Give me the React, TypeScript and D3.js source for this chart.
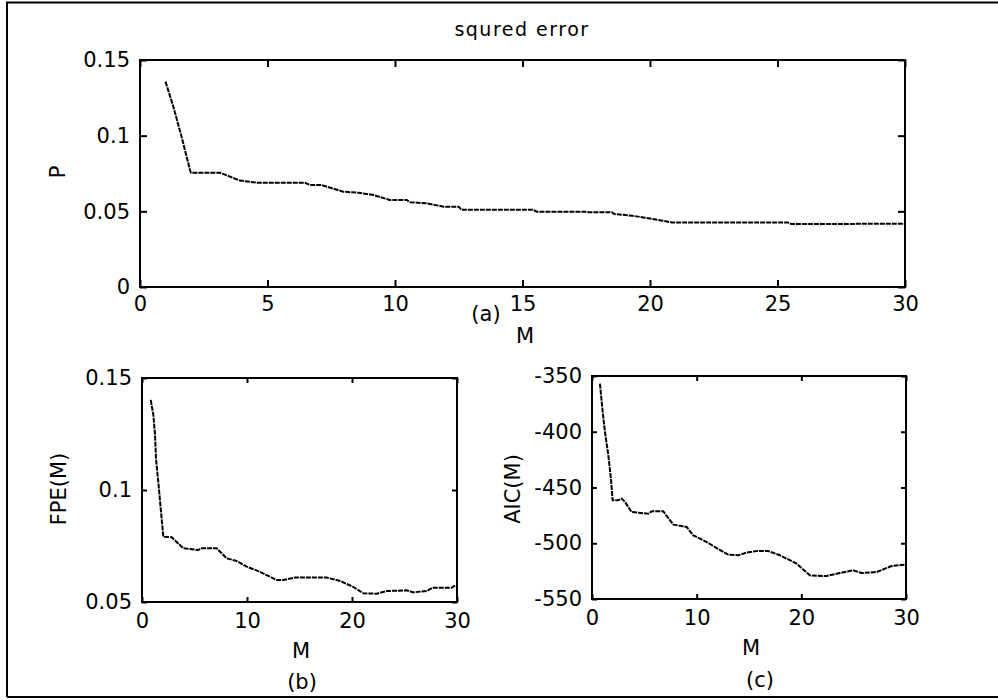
import * as d3 from "d3";
import { useEffect, useRef } from "react";

// (a) squared error P against model order M
const pM = [1, 1.31, 1.63, 1.96, 2.0, 3.14, 3.92, 4.58, 6.47, 6.67, 7.12, 7.97, 8.56, 9.15, 9.8, 10.46, 10.6, 11.24, 11.9, 12.5, 12.6, 15.4, 15.56, 17.45, 17.6, 18.5, 18.6, 19.3, 19.8, 20.5, 20.85, 25.4, 25.55, 30];
const pVal = [0.1357, 0.119, 0.0993, 0.0773, 0.0755, 0.0755, 0.0703, 0.0689, 0.0689, 0.0674, 0.0674, 0.063, 0.0623, 0.0608, 0.0575, 0.0575, 0.056, 0.0553, 0.0531, 0.0531, 0.0511, 0.0511, 0.0498, 0.0498, 0.0494, 0.0494, 0.0482, 0.0471, 0.0458, 0.0438, 0.0427, 0.0427, 0.0416, 0.0418];

// (b) FPE(M)
const fpeM = [0.83, 1.08, 1.24, 1.33, 1.55, 1.78, 2.03, 2.83, 3.93, 5.36, 5.68, 7.11, 8.07, 9.02, 9.97, 11.08, 11.87, 12.83, 13.46, 14.57, 17.59, 18.86, 20.1, 21.08, 22.35, 23.3, 25.2, 25.84, 27.1, 27.7, 29.5, 29.9];
const fpeVal = [0.1402, 0.1335, 0.1246, 0.1141, 0.1037, 0.0918, 0.0792, 0.0789, 0.074, 0.0732, 0.074, 0.074, 0.0695, 0.0683, 0.0658, 0.0638, 0.062, 0.0598, 0.0598, 0.0609, 0.0609, 0.0594, 0.0568, 0.0539, 0.0537, 0.0549, 0.0552, 0.0543, 0.0549, 0.0564, 0.0564, 0.0576];

// (c) AIC(M)
const aicM = [0.76, 1.02, 1.24, 1.56, 1.81, 1.97, 2.5, 2.84, 3.15, 3.79, 5.38, 5.7, 6.81, 7.77, 9.04, 9.68, 10.96, 11.91, 13.02, 13.98, 14.78, 15.73, 16.84, 17.96, 19.55, 20.82, 22.41, 23.69, 24.96, 25.76, 27.19, 28.62, 29.9];
const aicVal = [-356.9, -382.3, -400.2, -421.1, -442.1, -461.5, -461.5, -460, -463, -472, -473.5, -471.4, -471.4, -483.3, -485.4, -492.9, -498.9, -504.3, -510.2, -510.8, -508.4, -507, -507, -510.8, -518.3, -528.8, -529.4, -526.7, -524.3, -526.7, -525.8, -520.4, -519.2];

const topXTicks = [0, 5, 10, 15, 20, 25, 30];
const topYTicks = [0, 0.05, 0.1, 0.15];
const bottomXTicks = [0, 10, 20, 30];
const fpeYTicks = [0.05, 0.1, 0.15];
const aicYTicks = [-550, -500, -450, -400, -350];

const FONT = "'DejaVu Sans', sans-serif";

type Panel = {
  left: number; top: number; right: number; bottom: number;
  xDomain: [number, number]; yDomain: [number, number];
  xTicks: number[]; yTicks: number[];
  xs: number[]; ys: number[];
  tick: number; xPad: number;
};

function drawPanel(svg: d3.Selection<SVGSVGElement, unknown, null, undefined>, p: Panel) {
  const x = d3.scaleLinear().domain(p.xDomain).range([p.left, p.right]);
  const y = d3.scaleLinear().domain(p.yDomain).range([p.bottom, p.top]);
  const fmt = (d: d3.NumberValue) => String(d);

  const style = (g: d3.Selection<SVGGElement, unknown, null, undefined>) => {
    g.select(".domain").remove();
    g.selectAll("line").attr("stroke", "#000").attr("stroke-width", 2);
    g.selectAll("text").attr("font-family", FONT).attr("font-size", 21).attr("fill", "#000");
  };

  svg.append("g").attr("transform", `translate(0,${p.bottom})`)
    .call(d3.axisBottom(x).tickValues(p.xTicks).tickFormat(fmt).tickSize(-p.tick).tickPadding(p.xPad))
    .call(style);
  svg.append("g").attr("transform", `translate(0,${p.top})`)
    .call(d3.axisTop(x).tickValues(p.xTicks).tickFormat(() => "").tickSize(-p.tick))
    .call(style);
  svg.append("g").attr("transform", `translate(${p.left},0)`)
    .call(d3.axisLeft(y).tickValues(p.yTicks).tickFormat(fmt).tickSize(-p.tick).tickPadding(10))
    .call(style);
  svg.append("g").attr("transform", `translate(${p.right},0)`)
    .call(d3.axisRight(y).tickValues(p.yTicks).tickFormat(() => "").tickSize(-p.tick))
    .call(style);

  svg.append("rect")
    .attr("x", p.left).attr("y", p.top)
    .attr("width", p.right - p.left).attr("height", p.bottom - p.top)
    .attr("fill", "none").attr("stroke", "#000").attr("stroke-width", 2);

  const line = d3.line<number>()
    .x((_, i) => x(p.xs[i]))
    .y(d => y(d));

  svg.append("path")
    .datum(p.ys)
    .attr("d", line)
    .attr("fill", "none")
    .attr("stroke", "#000")
    .attr("stroke-width", 2)
    .attr("stroke-dasharray", "5 1");
}

function label(svg: d3.Selection<SVGSVGElement, unknown, null, undefined>, txt: string, x: number, y: number, rotate = false, size = 21) {
  const t = svg.append("text")
    .attr("font-family", FONT)
    .attr("font-size", size)
    .attr("text-anchor", "middle")
    .attr("fill", "#000")
    .text(txt);
  if (rotate) t.attr("transform", `translate(${x},${y}) rotate(-90)`);
  else t.attr("x", x).attr("y", y);
  return t;
}

export default function App() {
  const ref = useRef<HTMLDivElement>(null);

  useEffect(() => {
    const container = ref.current;
    if (!container) return;
    container.innerHTML = "";

    const svg = d3.create("svg").attr("width", 998).attr("height", 700)
      .style("display", "block").style("background", "#fff");

    // outer figure frame
    svg.append("path")
      .attr("d", "M7,697 V2.5 H998 M7,697 H998")
      .attr("fill", "none").attr("stroke", "#000").attr("stroke-width", 2);

    drawPanel(svg, {
      left: 140, top: 60, right: 905, bottom: 287,
      xDomain: [0, 30], yDomain: [0, 0.15],
      xTicks: topXTicks, yTicks: topYTicks,
      xs: pM, ys: pVal, tick: 7, xPad: 9,
    });
    drawPanel(svg, {
      left: 142, top: 378, right: 457, bottom: 602,
      xDomain: [0, 30], yDomain: [0.05, 0.15],
      xTicks: bottomXTicks, yTicks: fpeYTicks,
      xs: fpeM, ys: fpeVal, tick: 5, xPad: 11,
    });
    drawPanel(svg, {
      left: 592, top: 376, right: 906, bottom: 599,
      xDomain: [0, 30], yDomain: [-550, -350],
      xTicks: bottomXTicks, yTicks: aicYTicks,
      xs: aicM, ys: aicVal, tick: 5, xPad: 11,
    });

    label(svg, "squred error", 522, 36, false, 19).attr("letter-spacing", 1.5);
    label(svg, "P", 65, 172, true);
    label(svg, "M", 525, 343);
    label(svg, "(a)", 486, 321);
    label(svg, "FPE(M)", 66, 489, true);
    label(svg, "M", 301, 658);
    label(svg, "(b)", 302, 689);
    label(svg, "AIC(M)", 520, 489, true);
    label(svg, "M", 751, 655);
    label(svg, "(c)", 760, 687);

    container.append(svg.node()!);
  }, []);

  return <div ref={ref} style={{ position: "absolute", left: 0, top: 0 }}></div>;
}
